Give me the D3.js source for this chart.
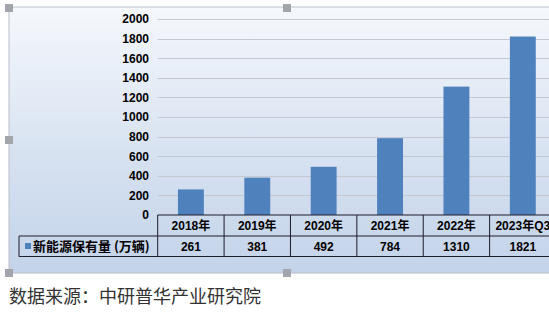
<!DOCTYPE html>
<html>
<head>
<meta charset="utf-8">
<script src="https://cdn.jsdelivr.net/npm/d3@7/dist/d3.min.js"></script>
<style>
  html, body { margin: 0; padding: 0; background: #ffffff; }
  svg { display: block; }
</style>
</head>
<body>
<svg id="chart" width="549" height="330"></svg>
<script>
// New-energy vehicle ownership, 10k vehicles
const categories = ["2018年", "2019年", "2020年", "2021年", "2022年", "2023年Q3"];
const values = [261, 381, 492, 784, 1310, 1821];
const yTicks = [0, 200, 400, 600, 800, 1000, 1200, 1400, 1600, 1800, 2000];
const seriesName = "新能源保有量 (万辆)";
const sourceText = "数据来源：中研普华产业研究院";

const svg = d3.select("#chart");
const W = 549, H = 330;

const frame = { x: 9, y: 7, x2: 600, y2: 273 };
const plot = { left: 157.7, right: 556, top: 19, bottom: 215 };
const rowH = [21, 20.5];
const legendLeft = 19;

const fontNum = "'Liberation Sans', Arial, 'Noto Sans CJK SC', sans-serif";
const fontCJK = "'Noto Sans CJK SC', 'Liberation Sans', sans-serif";

// Background gradient of the chart area
const defs = svg.append("defs");
const grad = defs.append("linearGradient")
  .attr("id", "bg").attr("x1", 0).attr("y1", 0).attr("x2", 0).attr("y2", 1);
grad.append("stop").attr("offset", "0%").attr("stop-color", "#f5f8fc");
grad.append("stop").attr("offset", "55%").attr("stop-color", "#d7e2f1");
grad.append("stop").attr("offset", "100%").attr("stop-color", "#c3d3e9");

svg.append("rect")
  .attr("x", frame.x).attr("y", frame.y)
  .attr("width", frame.x2 - frame.x).attr("height", frame.y2 - frame.y)
  .attr("fill", "url(#bg)")
  .attr("stroke", "#b9bec8").attr("stroke-width", 1);

// Scales
const x = d3.scaleBand().domain(categories)
  .range([plot.left, plot.right])
  .paddingInner(0.61).paddingOuter(0.305);
const xCell = d3.scaleBand().domain(categories)
  .range([plot.left, plot.right]).padding(0);
const y = d3.scaleLinear().domain([0, 2000]).range([plot.bottom, plot.top]);

// Gridlines
svg.append("g")
  .selectAll("line")
  .data(yTicks.filter(d => d > 0))
  .join("line")
  .attr("x1", plot.left).attr("x2", W + 10)
  .attr("y1", d => Math.round(y(d)) + 0.5)
  .attr("y2", d => Math.round(y(d)) + 0.5)
  .attr("stroke", "#c3c8d1").attr("stroke-width", 1);

// Y axis labels
const yAxis = d3.axisLeft(y).tickValues(yTicks).tickFormat(d3.format("d"))
  .tickSize(0).tickPadding(0);
const yg = svg.append("g")
  .attr("transform", `translate(149,0)`)
  .call(yAxis);
yg.select(".domain").remove();
yg.selectAll("text")
  .attr("font-family", fontNum)
  .attr("font-size", 12)
  .attr("font-weight", "bold")
  .attr("fill", "#000");

// Bars
svg.append("g")
  .selectAll("rect")
  .data(values)
  .join("rect")
  .attr("x", (d, i) => x(categories[i]))
  .attr("y", d => y(d))
  .attr("width", x.bandwidth())
  .attr("height", d => y(0) - y(d))
  .attr("fill", "#4f81bd");

// Data table under the plot
const tbl = svg.append("g")
  .attr("stroke", "#1c1c2c").attr("stroke-width", 1).attr("fill", "none");
const r0 = plot.bottom, r1 = r0 + rowH[0], r2 = r1 + rowH[1];

// horizontal rules
tbl.append("line").attr("x1", plot.left).attr("x2", W + 10).attr("y1", r0).attr("y2", r0);
tbl.append("line").attr("x1", legendLeft).attr("x2", W + 10).attr("y1", r1).attr("y2", r1);
tbl.append("line").attr("x1", legendLeft).attr("x2", W + 10).attr("y1", r2).attr("y2", r2);
// legend cell left edge
tbl.append("line").attr("x1", legendLeft).attr("x2", legendLeft).attr("y1", r1).attr("y2", r2);
// column separators
const edges = categories.map(c => xCell(c)).concat([xCell(categories[categories.length - 1]) + xCell.bandwidth()]);
tbl.selectAll("line.col")
  .data(edges)
  .join("line")
  .attr("class", "col")
  .attr("x1", d => d).attr("x2", d => d)
  .attr("y1", r0).attr("y2", r2);

// header labels
svg.append("g")
  .selectAll("text")
  .data(categories)
  .join("text")
  .attr("x", d => xCell(d) + xCell.bandwidth() / 2)
  .attr("y", (r0 + r1) / 2 + 4.5)
  .attr("text-anchor", "middle")
  .attr("font-family", fontNum)
  .attr("font-size", 12)
  .attr("font-weight", "bold")
  .attr("fill", "#000")
  .text(d => d);

// value row
svg.append("g")
  .selectAll("text")
  .data(values)
  .join("text")
  .attr("x", (d, i) => xCell(categories[i]) + xCell.bandwidth() / 2)
  .attr("y", (r1 + r2) / 2 + 4.5)
  .attr("text-anchor", "middle")
  .attr("font-family", fontNum)
  .attr("font-size", 12)
  .attr("font-weight", "bold")
  .attr("fill", "#000")
  .text(d => d);

// legend key + series name
svg.append("rect")
  .attr("x", 25).attr("y", 243).attr("width", 6).attr("height", 6)
  .attr("fill", "#4f81bd");
svg.append("text")
  .attr("x", 33).attr("y", (r1 + r2) / 2 + 5)
  .attr("font-family", fontCJK)
  .attr("font-size", 13)
  .attr("font-weight", "bold")
  .attr("fill", "#000")
  .text(seriesName);

// Selection handles on the chart frame
const handles = [[5, 4], [283, 4], [5, 136], [5, 269], [283, 269]];
svg.append("g")
  .selectAll("rect")
  .data(handles)
  .join("rect")
  .attr("x", d => d[0]).attr("y", d => d[1])
  .attr("width", 8).attr("height", 8)
  .attr("fill", "#a3a5ad");

// Source note
svg.append("text")
  .attr("x", 9).attr("y", 303)
  .attr("font-family", fontCJK)
  .attr("font-size", 18)
  .attr("fill", "#333")
  .text(sourceText);
</script>
</body>
</html>
